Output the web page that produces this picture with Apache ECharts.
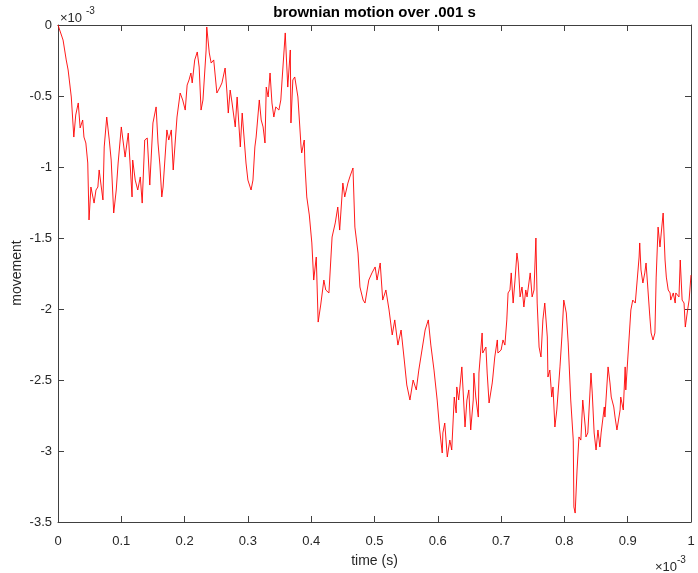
<!DOCTYPE html>
<html><head><meta charset="utf-8">
<script src="https://cdn.jsdelivr.net/npm/echarts/dist/echarts.min.js"></script>
<style>html,body{margin:0;padding:0;background:#fff}#c{width:698px;height:573px}</style>
</head><body><div id="c"></div>
<script>
// time in units of 1e-3 s, movement in units of 1e-3
const time = [0,0.003,0.008,0.013,0.016,0.021,0.025,0.028,0.032,0.035,0.039,0.041,0.044,0.047,0.049,0.052,0.057,0.060,0.063,0.065,0.068,0.071,0.073,0.077,0.081,0.084,0.088,0.092,0.095,0.100,
0.101,0.106,0.111,0.114,0.117,0.118,0.122,0.126,0.130,0.133,0.137,0.141,0.145,0.150,0.155,0.158,0.161,0.164,0.166,0.172,0.175,0.179,0.182,0.188,0.193,0.197,0.201,0.204,0.207,0.210,
0.212,0.216,0.220,0.223,0.226,0.229,0.234,0.235,0.239,0.242,0.246,0.251,0.256,0.259,0.264,0.267,0.269,0.272,0.275,0.280,0.283,0.288,0.291,0.297,0.300,0.305,0.308,0.311,0.313,0.318,
0.321,0.324,0.327,0.329,0.332,0.335,0.338,0.341,0.344,0.349,0.352,0.354,0.359,0.360,0.363,0.367,0.368,0.371,0.374,0.379,0.384,0.385,0.389,0.390,0.393,0.397,0.401,0.404,0.408,0.411,
0.415,0.420,0.423,0.428,0.433,0.438,0.442,0.445,0.450,0.453,0.458,0.461,0.466,0.469,0.474,0.477,0.482,0.485,0.491,0.496,0.501,0.504,0.509,0.513,0.518,0.523,0.528,0.532,0.537,0.542,
0.547,0.551,0.556,0.561,0.566,0.570,0.575,0.580,0.585,0.589,0.594,0.599,0.603,0.607,0.608,0.611,0.615,0.619,0.622,0.626,0.629,0.630,0.633,0.638,0.643,0.646,0.649,0.652,0.656,0.657,
0.660,0.664,0.665,0.670,0.671,0.676,0.678,0.681,0.686,0.687,0.690,0.694,0.695,0.700,0.703,0.706,0.709,0.711,0.714,0.716,0.719,0.722,0.725,0.727,0.730,0.733,0.736,0.739,0.741,0.746,
0.749,0.752,0.755,0.757,0.760,0.763,0.766,0.769,0.773,0.774,0.777,0.780,0.782,0.785,0.788,0.793,0.796,0.799,0.803,0.806,0.810,0.814,0.815,0.817,0.820,0.823,0.826,0.829,0.833,0.834,
0.837,0.842,0.844,0.847,0.850,0.853,0.856,0.858,0.863,0.864,0.869,0.872,0.874,0.878,0.880,0.883,0.888,0.889,0.893,0.896,0.897,0.900,0.905,0.908,0.912,0.915,0.918,0.919,0.921,0.924,
0.927,0.929,0.932,0.935,0.937,0.940,0.943,0.945,0.948,0.951,0.953,0.956,0.959,0.961,0.964,0.967,0.968,0.972,0.975,0.976,0.981,0.983,0.986,0.989,0.991,0.994,0.997,1.000];
const movement = [0,0,-0.106,-0.246,-0.317,-0.507,-0.789,-0.634,-0.549,-0.725,-0.669,-0.789,-0.831,-0.972,-1.373,-1.141,-1.254,-1.162,-1.141,-1.021,-1.127,-1.232,-0.859,-0.648,-0.810,-0.951,-1.324,-1.162,-0.972,-0.718,
-0.725,-0.930,-0.761,-0.986,-1.211,-0.951,-1.092,-1.162,-1.070,-1.254,-0.810,-0.796,-1.127,-0.690,-0.577,-0.831,-0.986,-1.211,-1.141,-0.739,-0.810,-0.739,-1.021,-0.648,-0.479,-0.528,-0.599,-0.423,-0.387,-0.338,
-0.408,-0.246,-0.190,-0.296,-0.599,-0.528,-0.176,-0.014,-0.197,-0.268,-0.246,-0.479,-0.437,-0.408,-0.303,-0.479,-0.620,-0.458,-0.549,-0.718,-0.507,-0.859,-0.620,-0.972,-1.092,-1.162,-1.092,-0.859,-0.789,-0.528,
-0.669,-0.718,-0.831,-0.437,-0.507,-0.338,-0.549,-0.648,-0.577,-0.599,-0.528,-0.387,-0.056,-0.155,-0.437,-0.176,-0.690,-0.387,-0.366,-0.507,-0.859,-0.901,-0.810,-0.972,-1.211,-1.338,-1.535,-1.796,-1.634,-2.092,
-1.972,-1.796,-1.866,-1.887,-1.493,-1.394,-1.282,-1.444,-1.113,-1.211,-1.113,-1.070,-1.007,-1.423,-1.606,-1.845,-1.937,-1.958,-1.796,-1.746,-1.704,-1.796,-1.676,-1.937,-1.866,-2.007,-2.183,-2.077,-2.254,-2.148,
-2.359,-2.535,-2.641,-2.500,-2.570,-2.430,-2.289,-2.148,-2.077,-2.254,-2.430,-2.641,-2.852,-3.014,-2.873,-2.803,-3.042,-2.923,-2.993,-2.620,-2.732,-2.549,-2.641,-2.408,-2.831,-2.641,-2.570,-2.852,-2.641,-2.451,
-2.620,-2.761,-2.451,-2.169,-2.310,-2.268,-2.451,-2.662,-2.521,-2.479,-2.338,-2.218,-2.310,-2.289,-2.218,-2.254,-2.077,-1.887,-1.866,-1.746,-1.958,-1.796,-1.606,-1.676,-1.915,-1.845,-1.986,-1.866,-1.915,-1.746,
-1.915,-1.866,-1.500,-1.958,-2.268,-2.338,-2.077,-1.958,-2.197,-2.479,-2.430,-2.620,-2.549,-2.831,-2.711,-2.408,-2.197,-1.937,-2.028,-2.239,-2.641,-2.923,-3.394,-3.437,-3.134,-2.901,-2.923,-2.641,-2.831,-2.901,
-2.873,-2.451,-2.592,-2.873,-2.993,-2.852,-2.972,-2.873,-2.690,-2.761,-2.408,-2.521,-2.620,-2.690,-2.761,-2.852,-2.711,-2.620,-2.711,-2.408,-2.570,-2.359,-2.007,-1.937,-1.958,-1.796,-1.634,-1.535,-1.725,-1.817,
-1.746,-1.676,-1.866,-2.056,-2.169,-2.218,-2.169,-1.775,-1.423,-1.563,-1.465,-1.324,-1.655,-1.775,-1.866,-1.887,-1.937,-1.887,-1.958,-1.887,-1.915,-1.655,-1.937,-1.958,-2.127,-2.028,-1.937,-1.761];
const xTickLabels = ['0','0.1','0.2','0.3','0.4','0.5','0.6','0.7','0.8','0.9','1'];
const yTickLabels = ['-3.5','-3','-2.5','-2','-1.5','-1','-0.5','0'];
const titleText = 'brownian motion over .001 s';
const xName = 'time (s)';
const yName = 'movement';

const FONT = "'Liberation Sans', Arial, Helvetica, sans-serif";
const AX = '#404040';
const TXT = '#262626';
const chart = echarts.init(document.getElementById('c'), null, {renderer:'canvas'});
const data = time.map((t, i) => [t, movement[i]]);
function axBase(extra){
  return Object.assign({
    type:'value',
    axisLine:{show:true, onZero:false, lineStyle:{color:AX, width:1}},
    axisTick:{show:true, inside:true, length:6, lineStyle:{color:AX, width:1}},
    splitLine:{show:false},
    axisLabel:{show:false}
  }, extra);
}
chart.setOption({
  animation:false,
  backgroundColor:'#fff',
  grid:{left:58, right:7, top:25, bottom:51, containLabel:false},
  xAxis:[
    axBase({min:0, max:1, interval:0.1, position:'bottom',
      axisLabel:{show:true, color:TXT, fontSize:13, fontFamily:FONT, margin:13,
        formatter:v => xTickLabels[Math.round(v*10)]}}),
    axBase({min:0, max:1, interval:0.1, position:'top'})
  ],
  yAxis:[
    axBase({min:-3.5, max:0, interval:0.5, position:'left',
      axisLabel:{show:true, color:TXT, fontSize:13, fontFamily:FONT, margin:6,
        formatter:v => yTickLabels[Math.round((v+3.5)*2)]}}),
    axBase({min:-3.5, max:0, interval:0.5, position:'right'})
  ],
  series:[{
    type:'line', data:data, xAxisIndex:0, yAxisIndex:0,
    showSymbol:false, symbol:'none',
    lineStyle:{color:'#ff0000', width:0.9},
    emphasis:{disabled:true}
  }],
  graphic:[
    {type:'text', x:374.5, y:13, style:{text:titleText, align:'center', verticalAlign:'middle', font:"bold 15px "+FONT, fill:'#000'}},
    {type:'text', x:374.5, y:561, style:{text:xName, align:'center', verticalAlign:'middle', font:"14px "+FONT, fill:TXT}},
    {type:'text', x:17, y:273, rotation:Math.PI/2, style:{text:yName, align:'center', verticalAlign:'middle', font:"14px "+FONT, fill:TXT}},
    {type:'text', x:60, y:18, style:{text:'\u00d710', align:'left', verticalAlign:'middle', font:"13px "+FONT, fill:TXT}},
    {type:'text', x:86, y:11, style:{text:'-3', align:'left', verticalAlign:'middle', font:"10px "+FONT, fill:TXT}},
    {type:'text', x:655, y:567, style:{text:'\u00d710', align:'left', verticalAlign:'middle', font:"13px "+FONT, fill:TXT}},
    {type:'text', x:677, y:560, style:{text:'-3', align:'left', verticalAlign:'middle', font:"10px "+FONT, fill:TXT}}
  ]
});
</script>
</body></html>
